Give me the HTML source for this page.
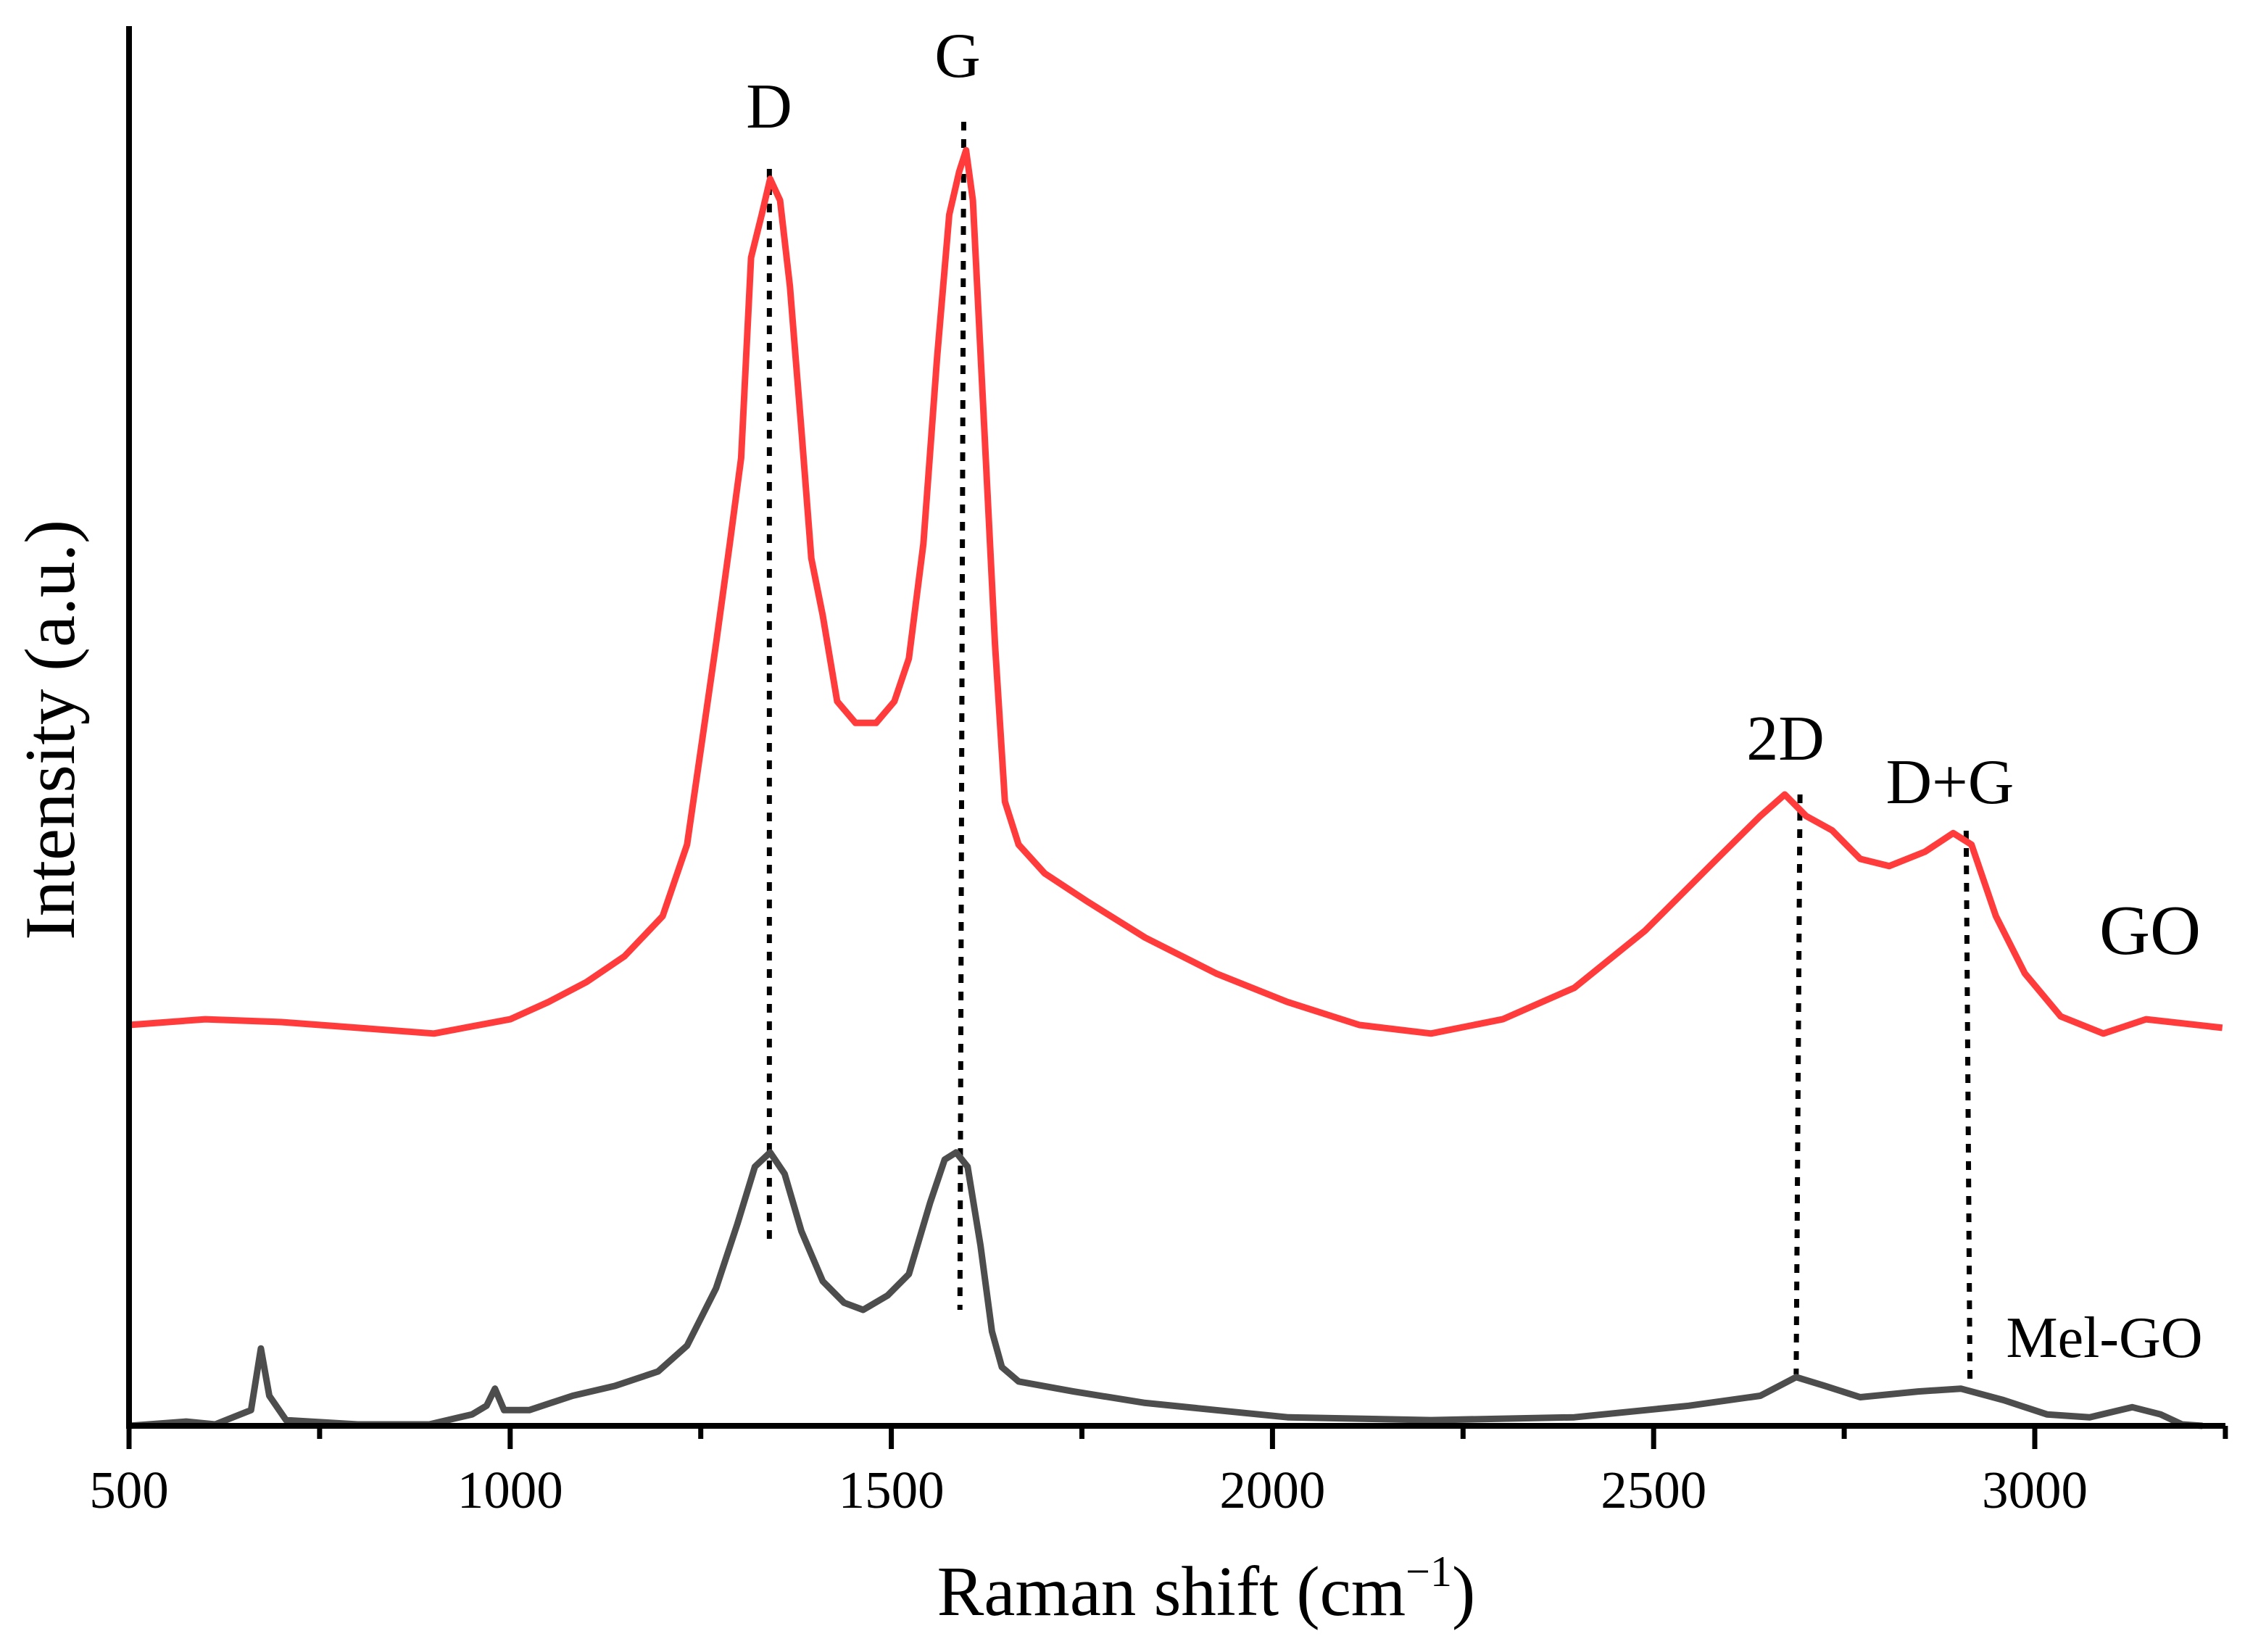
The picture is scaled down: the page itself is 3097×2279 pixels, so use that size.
<!DOCTYPE html>
<html><head><meta charset="utf-8"><style>
html,body{margin:0;padding:0;background:#fff;}
svg{display:block;}
text{font-family:"Liberation Serif",serif;fill:#000;}
</style></head>
<body>
<svg id="chart" width="3097" height="2279" viewBox="0 0 3097 2279" xmlns="http://www.w3.org/2000/svg">
<g id="plot"></g>
<text x="1664" y="2228" font-size="97" text-anchor="middle">Raman shift (cm<tspan font-size="60" dy="-40">−1</tspan><tspan dy="40">)</tspan></text>
<text transform="translate(102,1007) rotate(-90)" font-size="99" text-anchor="middle">Intensity (a.u.)</text>
</svg>
<script>
const goWave = [500,600,700,800,900,1000,1050,1100,1150,1200,1232,1251,1270,1288,1303,1316,1330,1341,1354,1367,1382,1395,1410,1429,1453,1480,1504,1523,1542,1560,1576,1589,1598,1607,1622,1636,1649,1667,1701,1758,1833,1926,2020,2114,2208,2302,2396,2489,2583,2640,2672,2700,2734,2771,2809,2856,2893,2917,2949,2987,3034,3090,3146,3246];
const goInt = [280,284,282,278,274,284,296,310,328,356,406,476,546,616,676,816,846,871,856,796,696,606,566,506,491,491,506,536,616,746,846,876,891,856,696,546,436,406,386,366,341,316,296,280,274,284,306,346,396,426,441,426,416,396,391,401,414,406,356,316,286,274,284,278];
const melWave = [500,575,613,660,673,684,706,800,894,950,969,980,992,1025,1082,1138,1194,1232,1270,1298,1321,1341,1360,1382,1410,1438,1463,1495,1523,1551,1570,1585,1600,1617,1632,1645,1667,1739,1833,1926,2020,2208,2396,2546,2640,2687,2724,2771,2847,2903,2959,3016,3072,3128,3165,3193,3220];
const melInt = [0,3,1,11,54,21,4,1,1,8,14,26,11,11,21,28,38,56,96,141,181,191,176,136,101,86,81,91,106,156,186,191,181,126,66,41,31,24,16,11,6,4,6,14,21,34,28,20,24,26,18,8,6,13,8,1,0];
const xTicks = [500,1000,1500,2000,2500,3000];
const xMinorTicks = [750,1250,1750,2250,2750,3250];
const peakNames = ["D","G","2D","D+G"];
const peakGO = [1340,1595,2692,2910];
const peakMel = [1340,1590,2687,2915];

const X0=178, XB=1967, YT=36, XR=3070;
const xS = w => X0 + (w-500)*1.0516;
const yS = v => XB - v*1.975;
const NS="http://www.w3.org/2000/svg";
const plot=document.getElementById('plot');
function mk(tag,attrs){const e=document.createElementNS(NS,tag);for(const k in attrs)e.setAttribute(k,attrs[k]);plot.appendChild(e);return e;}

const topY=[233,168,1096,1146], botY=[1718,1807,1896,1906];
peakNames.forEach((n,i)=>{
  const l=mk('line',{x1:xS(peakGO[i]),y1:topY[i],x2:xS(peakMel[i]),y2:botY[i],stroke:'#000','stroke-width':7,'stroke-dasharray':'12 12'});
  
  
});

function series(wv,iv,color,name){
  let d='';
  wv.forEach((w,i)=>{d+=(i?'L':'M')+xS(w).toFixed(1)+' '+yS(iv[i]).toFixed(1);});
  const p=mk('path',{d:d,fill:'none',stroke:color,'stroke-width':9,'stroke-linejoin':'round'});
  
  
}
series(melWave,melInt,'#4d4d4d','mel-go-line');
series(goWave,goInt,'#ff3b3b','go-line');

const ax=mk('line',{x1:X0,y1:XB,x2:XR,y2:XB,stroke:'#000','stroke-width':8});


const ay=mk('line',{x1:X0,y1:YT,x2:X0,y2:XB+4,stroke:'#000','stroke-width':8});


xTicks.forEach(t=>{
  const l=mk('line',{x1:xS(t),y1:XB,x2:xS(t),y2:XB+32,stroke:'#000','stroke-width':7});
  
  
  const tx=mk('text',{x:xS(t),y:2080,'font-size':73,'text-anchor':'middle'});
  tx.textContent=t;
  
  
});
xMinorTicks.forEach(t=>{
  const l=mk('line',{x1:xS(t),y1:XB,x2:xS(t),y2:XB+18,stroke:'#000','stroke-width':7});
  
  
});

const labPos=[[1061,176,88],[1321,106,88],[2463,1048,88],[2690,1108,88]];
peakNames.forEach((n,i)=>{
  const t=mk('text',{x:labPos[i][0],y:labPos[i][1],'font-size':labPos[i][2],'text-anchor':'middle'});
  t.textContent=n;
  
  
});
const g1=mk('text',{x:2966,y:1316,'font-size':97,'text-anchor':'middle'});
g1.textContent='GO';


const g2=mk('text',{x:2903,y:1872,'font-size':80,'text-anchor':'middle'});
g2.textContent='Mel-GO';


</script>
</body></html>
